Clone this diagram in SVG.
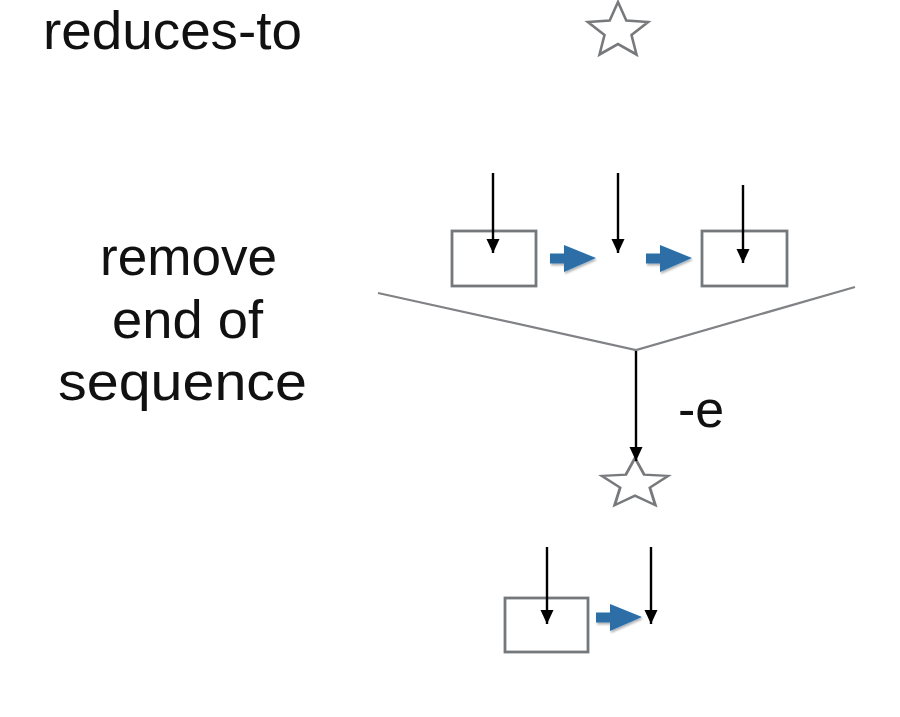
<svg xmlns="http://www.w3.org/2000/svg" width="900" height="717" viewBox="0 0 900 717">
  <style>
    .lbl { font-family: "Liberation Sans", Arial, sans-serif; fill: #111; }
    .box { fill: #fff; stroke: #75787b; stroke-width: 2.8; }
    .star { fill: #fff; stroke: #77797c; stroke-width: 2.6; stroke-linejoin: miter; }
    .ptr { stroke: #000; stroke-width: 2.4; fill: none; marker-end: url(#head); }
    .funnel { stroke: #808285; stroke-width: 2.2; fill: none; }
    .blue { fill: #2f6ea6; }
  </style>
  <defs>
    <marker id="head" markerUnits="userSpaceOnUse" markerWidth="16" markerHeight="16" viewBox="0 -8 16 16" refX="14" refY="0" orient="auto">
      <path d="M0,-6.5 L14,0 L0,6.5 z" fill="#000"/>
    </marker>
    <filter id="sh" x="-20%" y="-20%" width="150%" height="160%">
      <feDropShadow dx="1" dy="2" stdDeviation="1.2" flood-color="#000" flood-opacity="0.3"/>
    </filter>
    <path id="blueArrow" d="M0,-4.5 L14,-4.5 L14,-13 L46,0 L14,14 L14,5.5 L0,5.5 z"/>
    <polygon id="starShape" points="0,-29 8.3,-10.5 30.1,-9 13.5,4 18.5,23.5 0,13 -18.5,23.5 -13.5,4 -30.1,-9 -8.3,-10.5"/>
  </defs>

  <g id="label-reduces-to">
    <text class="lbl" x="43" y="49" font-size="53" textLength="259" lengthAdjust="spacingAndGlyphs">reduces-to</text>
  </g>
  <g id="star-legend">
    <use href="#starShape" class="star" transform="translate(618,31)"/>
  </g>

  <g id="label-rule">
    <text class="lbl" x="100" y="275" font-size="54" textLength="177" lengthAdjust="spacingAndGlyphs">remove</text>
    <text class="lbl" x="112" y="338" font-size="54" textLength="151" lengthAdjust="spacingAndGlyphs">end of</text>
    <text class="lbl" x="58" y="400" font-size="54" textLength="249" lengthAdjust="spacingAndGlyphs">sequence</text>
  </g>

  <g id="premise">
    <rect id="p-box1" class="box" x="452" y="231" width="84" height="55"/>
    <rect id="p-box2" class="box" x="702" y="231" width="85" height="55"/>
  </g>

  <g id="star-result">
    <use href="#starShape" class="star" transform="translate(635,484) scale(1.1,0.9)"/>
  </g>

  <g id="conclusion">
    <rect id="c-box1" class="box" x="505" y="598" width="83" height="54"/>
  </g>

  <g id="label-e">
    <text class="lbl" x="678" y="427" font-size="52">-e</text>
  </g>

  <g id="connectors">
    <line class="ptr" x1="493" y1="173" x2="493" y2="253"/>
    <line class="ptr" x1="618" y1="173" x2="618" y2="253"/>
    <line class="ptr" x1="743" y1="185" x2="743" y2="263"/>
    <use href="#blueArrow" class="blue" filter="url(#sh)" transform="translate(550,258)"/>
    <use href="#blueArrow" class="blue" filter="url(#sh)" transform="translate(646,258)"/>
    <polyline class="funnel" points="378,293 636,350 855,287"/>
    <line class="ptr" x1="636" y1="351" x2="636" y2="461"/>
    <line class="ptr" x1="547" y1="547" x2="547" y2="624"/>
    <line class="ptr" x1="651" y1="547" x2="651" y2="624"/>
    <use href="#blueArrow" class="blue" filter="url(#sh)" transform="translate(596,617)"/>
  </g>
</svg>
